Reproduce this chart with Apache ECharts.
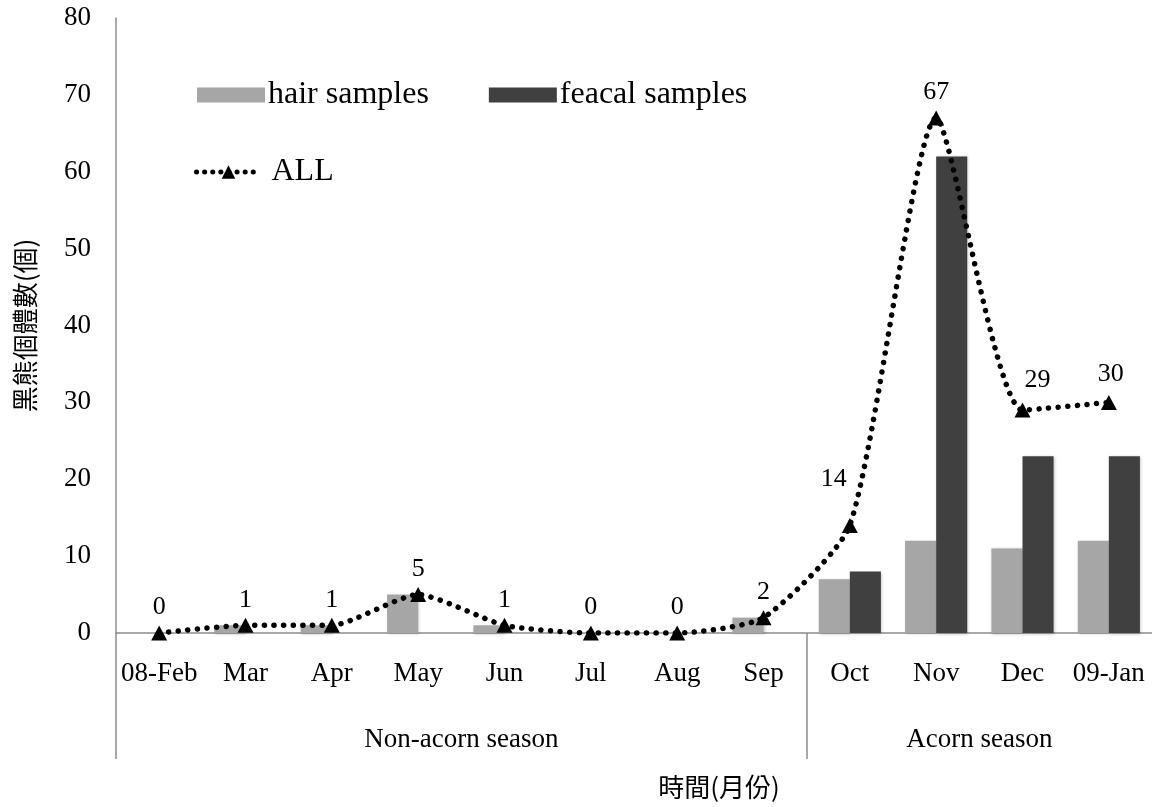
<!DOCTYPE html>
<html>
<head>
<meta charset="utf-8">
<script src="https://cdn.jsdelivr.net/npm/echarts@6/dist/echarts.min.js"></script>
<style>html,body{margin:0;padding:0;background:#fff;}#c{width:1152px;height:807px;}</style>
</head>
<body>
<div id="c"></div>
<script>
const months = ['08-Feb','Mar','Apr','May','Jun','Jul','Aug','Sep','Oct','Nov','Dec','09-Jan'];
const hairSamples = [0,1,1,5,1,0,0,2,7,12,11,12];
const feacalSamples = [0,0,0,0,0,0,0,0,8,62,23,23];
const allCounts = [0,1,1,5,1,0,0,2,14,67,29,30];
const seasonNames = ['Non-acorn season','Acorn season'];
const seasonCenters = [4,10];
const seasonBounds = [0,8];
const yTicks = [0,10,20,30,40,50,60,70,80];

const serif = '"Liberation Serif","DejaVu Serif",serif';
const cjk = '"Noto Sans CJK TC","Noto Sans CJK SC",sans-serif';
const axisGray = '#8c8c8c';

const labelOffsets = {8:[-16,-21], 10:[15,-4], 11:[2,-3]};

const chart = echarts.init(document.getElementById('c'));
chart.setOption({
  animation:false,
  backgroundColor:'#fff',
  grid:{left:116, top:18, right:0, bottom:174, containLabel:false},
  legend:[
    {data:['hair samples','feacal samples'], left:192, top:74, itemWidth:68, itemHeight:15, itemGap:60,
     textStyle:{fontFamily:serif, fontSize:32, color:'#000', padding:[0,0,0,-2]}, icon:'rect'},
    {data:['ALL'], left:189, top:151, itemWidth:64, itemHeight:17,
     lineStyle:{color:'#000', width:5, type:[0.1,8], cap:'round'},
     textStyle:{fontFamily:serif, fontSize:32, color:'#000', padding:[0,0,0,6]}}
  ],
  xAxis:[
    {type:'category', data:months, boundaryGap:true,
     axisLine:{show:true, lineStyle:{color:axisGray, width:1.5}},
     axisTick:{show:false},
     axisLabel:{fontFamily:serif, fontSize:27, color:'#000', margin:27, interval:0}},
    {type:'value', min:0, max:12, position:'bottom',
     axisLine:{show:false}, splitLine:{show:false},
     axisTick:{show:true, customValues:seasonBounds, length:126, lineStyle:{color:axisGray, width:1.5}},
     axisLabel:{customValues:seasonCenters, fontFamily:serif, fontSize:27, color:'#000', margin:93,
       formatter:(v)=>seasonNames[seasonCenters.indexOf(v)]}}
  ],
  yAxis:{type:'value', min:0, max:80, interval:10,
    name:'黑熊個體數(個)', nameLocation:'middle', nameGap:78, nameRotate:90,
    nameTextStyle:{fontFamily:cjk, fontSize:26, color:'#000'},
    axisLine:{show:true, lineStyle:{color:axisGray, width:1.5}},
    axisTick:{show:false}, splitLine:{show:false},
    axisLabel:{fontFamily:serif, fontSize:27, color:'#000', margin:25,
      formatter:(v)=> yTicks.includes(v)? String(v):''}},
  graphic:[{type:'text', x:719, y:787, style:{text:'時間(月份)', font:'26px '+cjk, fill:'#000', align:'center', verticalAlign:'middle'}}],
  series:[
    {name:'hair samples', type:'bar', data:hairSamples, barGap:'0%', barCategoryGap:'28%',
     itemStyle:{color:'#a6a6a6', shadowColor:'rgba(0,0,0,0.25)', shadowBlur:3, shadowOffsetX:1, shadowOffsetY:1}},
    {name:'feacal samples', type:'bar', data:feacalSamples, barGap:'0%', barCategoryGap:'28%',
     itemStyle:{color:'#404040', shadowColor:'rgba(0,0,0,0.25)', shadowBlur:3, shadowOffsetX:1, shadowOffsetY:1}},
    {name:'ALL', type:'line', data:allCounts.map((v,i)=>({value:v, label: labelOffsets[i]?{offset:labelOffsets[i]}:undefined})),
     smooth:0.2, symbol:'triangle', symbolSize:[16,15], z:5,
     itemStyle:{color:'#000'},
     lineStyle:{color:'#000', width:5.5, type:[0.1,9.5], cap:'round'},
     label:{show:true, position:'top', distance:5, fontFamily:serif, fontSize:26, color:'#000'}}
  ]
});
</script>
</body>
</html>
